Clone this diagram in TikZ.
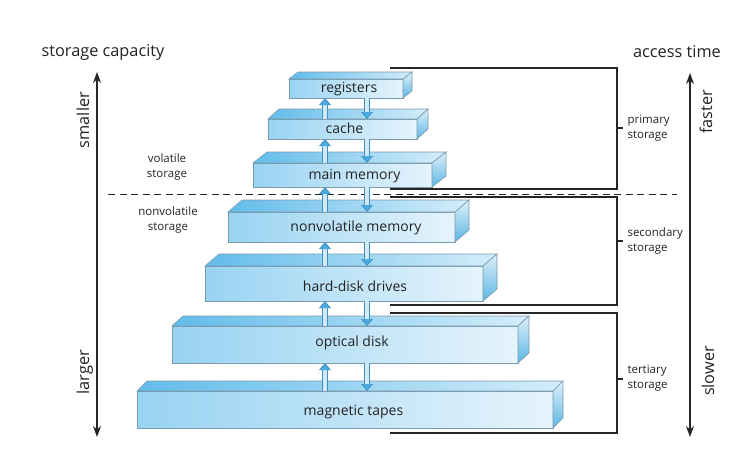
\documentclass[tikz,border=0pt]{standalone}
\usepackage{fontspec}
\setmainfont{Open Sans}
\usetikzlibrary{arrows.meta}
\definecolor{frontdark}{HTML}{98D3F2}
\definecolor{frontlight}{HTML}{E6F4FC}
\definecolor{topdark}{HTML}{62BCEA}
\definecolor{toplight}{HTML}{D4EDFA}
\definecolor{sidelight}{HTML}{DDF0FA}
\definecolor{sidedark}{HTML}{5DB6E4}
\definecolor{blockline}{HTML}{7B9AAE}
\definecolor{flowline}{HTML}{3F8FC2}
\definecolor{flowfill}{HTML}{D2EAF8}
\definecolor{flowhead}{HTML}{4BAADF}
\definecolor{textgray}{HTML}{232323}

\begin{document}
\begin{tikzpicture}[x=1pt,y=-1pt]
\tikzstyle{block} = [draw=blockline, line width=0.6pt, inner sep=0pt, outer sep=0pt, left color=frontdark, right color=frontlight]
\tikzstyle{topface} = [draw=blockline, line width=0.6pt, left color=topdark, right color=toplight]
\tikzstyle{sideface} = [draw=blockline, line width=0.6pt, top color=sidelight, bottom color=sidedark]
\tikzstyle{blocktext} = [font=\fontsize{14}{16}\selectfont, text=textgray]
\tikzstyle{smalltext} = [font=\fontsize{11.5}{14.5}\selectfont, text=textgray, align=left]
\tikzstyle{axistext} = [font=\fontsize{16.3}{19}\selectfont, text=textgray]
\tikzstyle{bracket} = [draw=black!85, line width=1.1pt]
\tikzstyle{axis} = [draw=black!85, line width=1.3pt, {Stealth[length=11pt,width=8pt]}-{Stealth[length=11pt,width=8pt]}]
\tikzstyle{flowout} = [line width=6pt, draw=flowline, -{Triangle[length=7pt,width=11.5pt]}]
\tikzstyle{flowin} = [line width=3.6pt, draw=flowfill, shorten >=1.2pt, -{Triangle[length=5.8pt,width=8.5pt,color=flowhead]}]

\useasboundingbox (0,0) rectangle (755,464);
\fill[white] (0,0) rectangle (755,464);

% brackets on the right
\draw[bracket] (390,68) -- (617,68) -- (617,189) -- (390,189);
\draw[bracket] (617,128) -- (623,128);
\draw[bracket] (390,197) -- (617,197) -- (617,305) -- (390,305);
\draw[bracket] (617,241) -- (623,241);
\draw[bracket] (390,313) -- (617,313) -- (617,433) -- (390,433);
\draw[bracket] (617,379) -- (623,379);
\node[smalltext, anchor=west] (primary) at (624,128) {primary\\storage};
\node[smalltext, anchor=west] (secondary) at (624,241) {secondary\\storage};
\node[smalltext, anchor=west] (tertiary) at (624,378) {tertiary\\storage};

% volatile / nonvolatile
\draw[black!85, line width=1pt, dash pattern=on 7pt off 4.5pt] (108,194) -- (677,194);
\node[smalltext, align=center] (volatile) at (167,167) {volatile\\storage};
\node[smalltext, align=center] (nonvolatile) at (168,220) {nonvolatile\\storage};

% the blocks
\node[block, minimum width=114, minimum height=19] (reg) at (346,88.5) {};
\node[block, minimum width=149, minimum height=20] (cache) at (342.5,129) {};
\node[block, minimum width=179, minimum height=24] (mainmem) at (342.5,175) {};
\node[block, minimum width=227, minimum height=30] (nvm) at (341.5,227) {};
\node[block, minimum width=278, minimum height=35] (hdd) at (344,283.5) {};
\node[block, minimum width=346, minimum height=37] (optical) at (345,344.5) {};
\node[block, minimum width=416, minimum height=37] (tapes) at (345,409.5) {};

\foreach \b/\dx/\dy in {reg/9/7, cache/11/10, mainmem/14/11, nvm/14/12, hdd/14/12, optical/11/10, tapes/10/10} {
  \draw[topface] (\b.north west) -- ++(\dx,-\dy) -- ([shift={(\dx,-\dy)}]\b.north east) -- (\b.north east) -- cycle;
  \draw[sideface] (\b.north east) -- ++(\dx,-\dy) -- ([shift={(\dx,-\dy)}]\b.south east) -- (\b.south east) -- cycle;
}

\node[blocktext] (regtext) at (349,89) {registers};
\node[blocktext] (cachetext) at (344.5,128) {cache};
\node[blocktext] (maintext) at (354.5,176) {main memory};
\node[blocktext] (nvmtext) at (356,228) {nonvolatile memory};
\node[blocktext] (hddtext) at (355,286) {hard-disk drives};
\node[blocktext] (opticaltext) at (352,343) {optical disk};
\node[blocktext] (tapestext) at (353.5,412) {magnetic tapes};

% transfers between levels
\foreach \hi/\lo in {reg/cache, cache/mainmem, mainmem/nvm, nvm/hdd, hdd/optical, optical/tapes} {
  \draw[flowout] (325,0 |- \lo.north) -- (325,0 |- \hi.south);
  \draw[flowin] (325,0 |- \lo.north) -- (325,0 |- \hi.south);
  \draw[flowout] (367,0 |- \hi.south) -- (367,0 |- \lo.north);
  \draw[flowin] (367,0 |- \hi.south) -- (367,0 |- \lo.north);
}

% axes
\coordinate (captop) at (97,72);
\coordinate (capbot) at (97,437);
\draw[axis] (capbot) -- (captop);
\node[axistext] (capacity) at (103,52) {storage capacity};
\node[axistext, rotate=90] (smaller) at (83,120) {smaller};
\node[axistext, rotate=90] (larger) at (85,372) {larger};

\coordinate (acctop) at (690,73);
\coordinate (accbot) at (690,437);
\draw[axis] (accbot) -- (acctop);
\node[axistext] (access) at (677,52) {access time};
\node[axistext, rotate=90] (faster) at (706,112) {faster};
\node[axistext, rotate=90] (slower) at (708,371) {slower};
\end{tikzpicture}
\end{document}
